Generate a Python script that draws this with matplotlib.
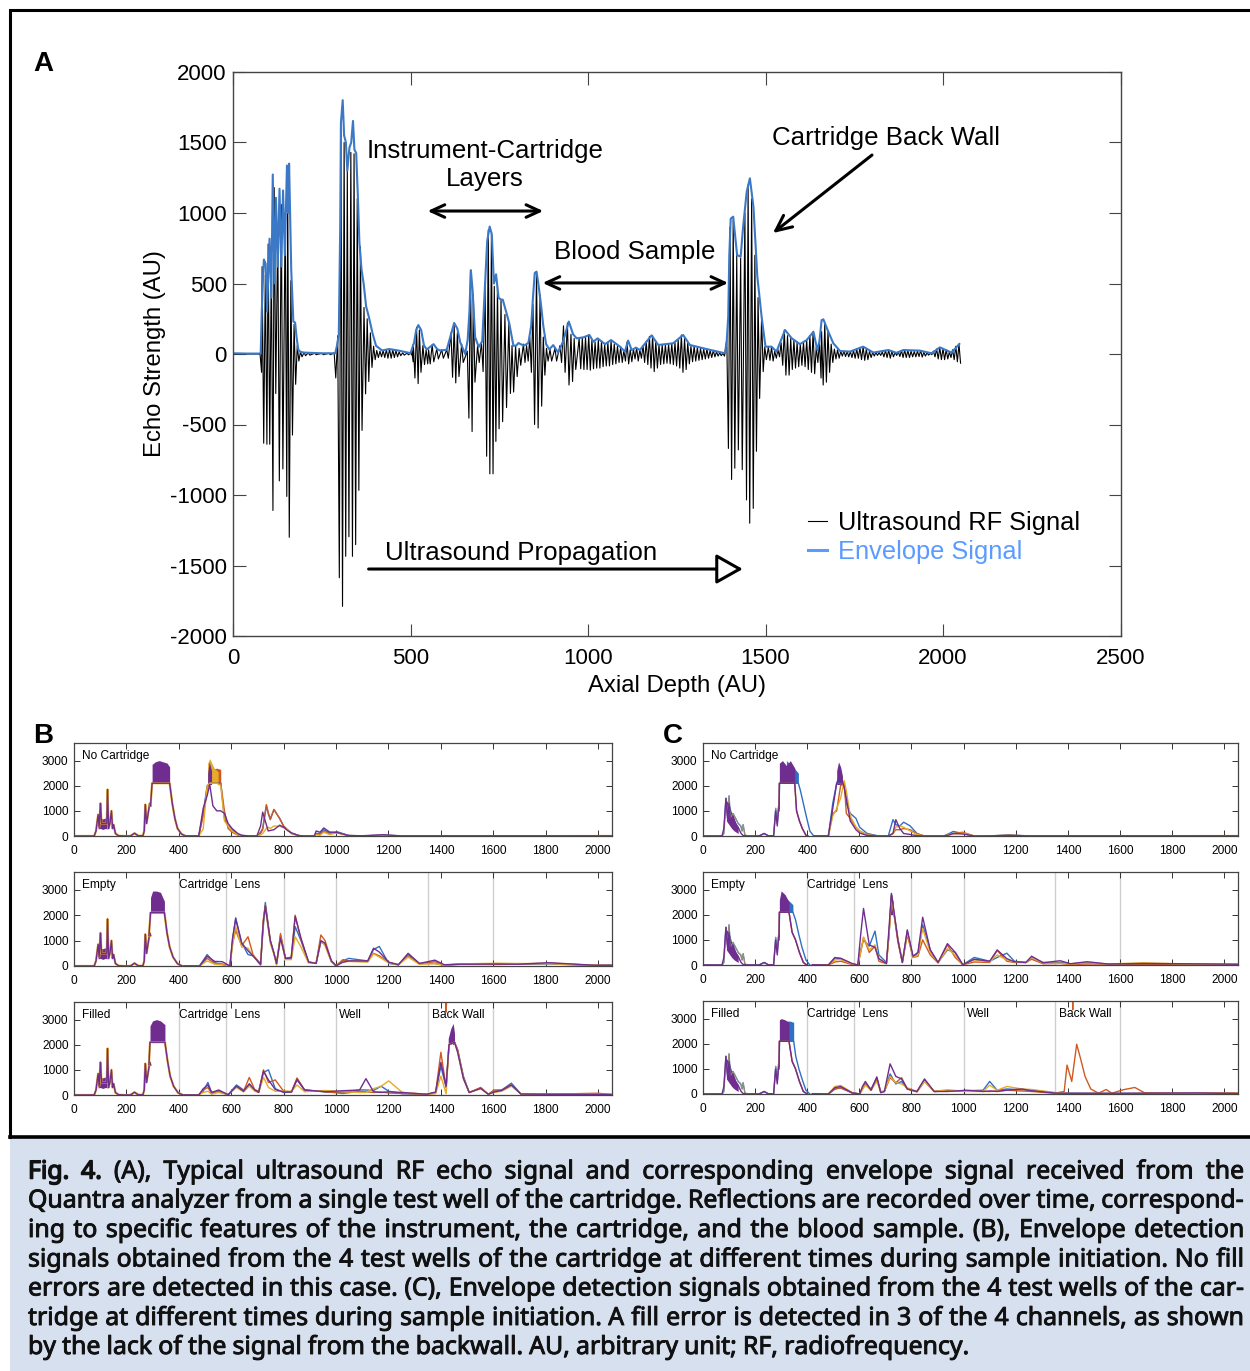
import matplotlib
matplotlib.use('Agg')
import matplotlib.pyplot as plt
import matplotlib.patheffects as pe
import numpy as np
from matplotlib.patches import Rectangle

W, H = 1250, 1371
plt.rcParams['font.family'] = ['Liberation Sans', 'DejaVu Sans']
plt.rcParams['axes.unicode_minus'] = False

# panel A, RF signal: one cycle per entry (crest position, crest, trough)
rf_x = [0, 40, 70, 76, 82, 91, 99, 108, 116, 126, 136, 147, 154, 163, 172, 181, 190, 200, 212, 230, 250, 270, 285,
        295, 304, 313, 322, 332, 341, 350, 359, 369, 378, 387, 396, 405, 414, 423, 432, 441, 450, 459, 468, 478, 490,
        500, 503, 508, 517, 525, 535, 544, 551, 561, 574, 588, 602, 614, 623, 632, 644, 660, 669, 677, 689, 700,
        710, 719, 728, 736, 745, 755, 766, 777, 786, 796, 806, 818, 827, 836, 845, 855, 865, 874, 883, 893, 907, 921,
        931, 942, 952, 961, 975, 984, 993, 1002, 1011, 1020, 1029, 1038, 1047, 1056, 1065, 1074, 1083, 1092, 1101,
        1110, 1119, 1128, 1137, 1146, 1155, 1164, 1173, 1182, 1191, 1200, 1209, 1218, 1227, 1236, 1245, 1254, 1263,
        1272, 1281, 1290, 1299, 1308, 1317, 1326, 1335, 1344, 1353, 1362, 1371, 1380, 1391, 1400, 1409, 1419, 1430,
        1442, 1451, 1461, 1470, 1479, 1489, 1498, 1508, 1517, 1526, 1535, 1544, 1553, 1562, 1571, 1580, 1589, 1598,
        1607, 1616, 1625, 1634, 1643, 1652, 1658, 1667, 1676, 1685, 1694, 1703, 1712, 1721, 1730, 1739, 1748, 1757,
        1766, 1775, 1784, 1793, 1802, 1811, 1820, 1829, 1838, 1847, 1856, 1865, 1874, 1883, 1892, 1901, 1910, 1919,
        1928, 1937, 1946, 1955, 1964, 1973, 1982, 1991, 2000, 2009, 2018, 2027, 2036, 2045]
rf_top = [0, 0, 0, 5, 620, 560, 780, 660, 1180, 900, 1060, 1000, 1230, 520, 210, 60, 15, 10, 8, 5, 5, 5, 8,
          130, 1600, 1500, 1300, 1430, 1420, 1100, 760, 330, 250, 150, 55, 25, 20, 25, 30, 35, 30, 25, 15, 8, 6,
          6, 30, 70, 190, 170, 60, 30, 30, 65, 35, 30, 30, 150, 200, 150, 70, 20, 590, 420, 60, 80,
          500, 880, 850, 480, 480, 380, 280, 220, 60, 60, 40, 70, 60, 120, 350, 575, 420, 120, 40, 33, 40, 60,
          200, 220, 140, 110, 110, 118, 120, 135, 100, 85, 100, 85, 70, 80, 90, 70, 55, 50, 25,
          85, 30, 35, 45, 30, 60, 90, 125, 130, 90, 65, 65, 65, 70, 75, 80, 100, 135,
          110, 80, 55, 55, 45, 40, 35, 35, 25, 25, 15, 10, 5, 100, 900, 950, 700, 680,
          1000, 1200, 1100, 700, 400, 260, 50, 50, 50, 20, 30, 80, 170, 130, 110, 100, 80, 70,
          85, 100, 130, 155, 50, 90, 160, 220, 160, 70, 35, 30, 20, 20, 18, 18, 25, 35,
          45, 50, 35, 20, 12, 10, 10, 15, 25, 28, 20, 10, 15, 25, 28, 25, 20, 18,
          20, 25, 12, 8, 5, 20, 35, 45, 40, 30, 15, 30, 55, 70]
rf_bot = [0, 0, 0, -130, -633, -640, -640, -1110, -280, -900, -815, -1010, -1300, -575, -215, -50, -20, -12, -8, -5, -5, -5, -170,
          -1587, -1790, -1435, -1296, -1435, -1352, -967, -542, -283, -195, -95, -40, -25, -20, -25, -30, -30, -25, -20, -12, -8, -6,
          -8, -55, -170, -210, -130, -75, -70, -70, -55, -35, -30, -30, -165, -205, -160, -60, -455, -550, -200, -60, -125,
          -725, -850, -850, -620, -530, -480, -380, -280, -270, -160, -80, -60, -50, -130, -500, -525, -370, -150, -50, -50, -50, -60,
          -130, -220, -195, -110, -105, -110, -110, -115, -105, -100, -100, -90, -85, -85, -75, -70, -60, -60, -50,
          -70, -55, -35, -50, -30, -60, -75, -100, -125, -100, -75, -70, -65, -70, -75, -85, -100, -130,
          -110, -70, -55, -50, -45, -40, -35, -30, -25, -20, -15, -12, -15, -670, -890, -810, -680, -820,
          -1035, -1200, -1095, -690, -315, -125, -40, -45, -50, -30, -20, -80, -150, -150, -110, -100, -90, -80,
          -90, -110, -130, -140, -60, -170, -220, -200, -130, -60, -35, -30, -15, -18, -20, -25, -30, -30,
          -40, -45, -40, -25, -15, -10, -10, -20, -25, -30, -20, -10, -18, -25, -25, -25, -20, -20,
          -18, -22, -15, -8, -5, -20, -35, -40, -40, -35, -25, -40, -55, -65]

# panel A, envelope
env_x = [0, 40, 78, 81, 84, 87, 92, 96, 103, 108, 112, 117, 121, 126, 131, 136, 141, 146, 152, 155, 158, 164, 170, 175,
         179, 184, 190, 200, 250, 288, 293, 298, 302, 304, 309, 313, 318, 322, 328, 333, 338, 342, 347, 352, 356, 362,
         368, 375, 383, 393, 403, 420, 440, 465, 500, 510, 516, 522, 530, 538, 546, 555, 565, 575, 583, 602, 612, 623,
         632, 640, 654, 661, 666, 670, 675, 682, 692, 702, 708, 716, 723, 729, 735, 741, 748, 754, 760, 766, 771, 778,
         790, 798, 804, 810, 820, 832, 840, 845, 850, 855, 860, 867, 874, 882, 891, 902, 916, 930, 946, 958, 968,
         987, 1004, 1015, 1027, 1048, 1065, 1090, 1104, 1113, 1123, 1135, 1146, 1179, 1198, 1240, 1268, 1287, 1334, 1386,
         1391, 1395, 1398, 1402, 1409, 1420, 1430, 1437, 1447, 1456, 1466, 1477, 1489, 1500, 1517, 1531, 1555, 1574, 1597,
         1616, 1635, 1646, 1652, 1658, 1663, 1677, 1691, 1710, 1738, 1775, 1804, 1846, 1869, 1888, 1935, 1968, 1991, 2024, 2046]
env_y = [5, 3, 3, 300, 500, 670, 640, 300, 818, 400, 1273, 500, 1108, 620, 1172, 620, 1160, 700, 1337, 1000, 1350, 600, 230, 223,
         120, 30, 15, 10, 5, 5, 60, 134, 900, 1640, 1800, 1550, 1500, 1300, 1463, 1500, 1653, 1450, 1425, 1100, 792, 600,
         500, 337, 260, 147, 58, 25, 35, 25, 6, 80, 170, 205, 170, 60, 33, 50, 70, 35, 25, 30, 120, 220,
         180, 83, 0, 100, 300, 595, 450, 120, 50, 90, 400, 800, 904, 850, 500, 565, 400, 387, 385, 330, 285, 220,
         58, 60, 78, 70, 60, 78, 200, 400, 575, 584, 500, 363, 200, 70, 33, 63, 10, 90, 230, 140, 111,
         118, 135, 87, 111, 70, 99, 52, 17, 95, 28, 45, 28, 132, 64, 76, 135, 64, 35, 5,
         100, 265, 700, 960, 974, 702, 690, 903, 1150, 1246, 1045, 548, 265, 52, 52, 17, 170, 111, 70,
         99, 158, 28, 90, 240, 246, 158, 76, 21, 17, 52, 10, 28, 8, 28, 24, 5, 47, 10, 71]

y_ticks_a = [-2000, -1500, -1000, -500, 0, 500, 1000, 1500, 2000]
x_ticks_a = [0, 500, 1000, 1500, 2000, 2500]

# shared start of the B traces and of the C traces (before the second burst)
head_b_x = [0, 77, 84, 92, 96, 101, 105, 125, 128, 132, 137, 143, 147, 151, 158, 170, 190, 215, 231, 245, 263, 268, 272, 277, 283, 289, 292]
head_b_y = [0, 0, 200, 850, 350, 1300, 500, 500, 1850, 300, 500, 1000, 300, 450, 100, 10, 0, 0, 110, 10, 10, 200, 1250, 500, 900, 1300, 1200]
head_b_band_x = [92, 100, 110, 120, 127]
head_b_band_lo = [280, 300, 260, 300, 280]
head_b_band_hi = [700, 720, 680, 720, 620]
head_c_x = [0, 73, 80, 88, 94, 100, 105, 115, 125, 135, 145, 150, 154, 161, 175, 215, 235, 250, 271, 279, 285, 290, 292]
head_c_blue = [0, 0, 100, 1500, 800, 1600, 700, 900, 700, 500, 400, 200, 450, 30, 0, 0, 100, 10, 5, 1100, 500, 1200, 1100]
head_c_purple = [0, 0, 300, 1500, 700, 1300, 600, 800, 500, 350, 120, 60, 20, 5, 0, 0, 100, 10, 5, 1000, 400, 1100, 1000]
head_c_band_x = [90, 100, 110, 120, 135]
head_c_band_lo = [600, 450, 300, 200, 100]
head_c_band_hi = [1400, 1300, 900, 650, 320]

# second burst per plot: flank of the trace and the saturated band
b1_lead_x = [292, 298, 365, 375, 385, 395, 410, 425]
b1_lead_y = [1200, 2100, 2100, 1300, 700, 300, 80, 5]
b1_band_x = [298, 310, 325, 340, 355, 365]
b1_band_hi = [2850, 2950, 3000, 2950, 2900, 2750]
b2_lead_x = [286, 292, 345, 355, 365, 378, 395, 412]
b2_lead_y = [1200, 2100, 2100, 1300, 750, 350, 90, 5]
b2_band_x = [292, 300, 315, 330, 345]
b2_band_hi = [2700, 2950, 2950, 2900, 2550]
b3_lead_x = [286, 290, 347, 357, 367, 380, 397, 415]
b3_lead_y = [1200, 2100, 2100, 1350, 750, 350, 90, 5]
b3_band_x = [290, 300, 315, 330, 347]
b3_band_hi = [2750, 2950, 3000, 2950, 2800]

c1_lead_x = [292, 293, 352, 359, 370, 381, 395, 403]
c1_purple_lead = [1100, 2100, 2100, 1000, 600, 300, 30, 0]
c1_blue_x = [292, 294, 366, 374, 385, 396, 410, 425]
c1_blue_lead = [1200, 2100, 2100, 1800, 1300, 800, 200, 0]
c1_band_x = [293, 305, 320, 335, 352]
c1_band_hi = [2900, 3000, 2800, 3000, 2700]
c1_blue_band_x = [320, 340, 350, 366]
c1_blue_band_hi = [3000, 2800, 2700, 2500]
c2_lead_x = [292, 293, 330, 342, 355, 370, 385, 398]
c2_purple_lead = [1100, 2100, 2100, 1300, 1000, 500, 100, 0]
c2_blue_x = [292, 294, 345, 355, 368, 380, 395, 410]
c2_blue_lead = [1200, 2100, 2100, 1800, 1200, 700, 200, 0]
c2_band_x = [293, 300, 315, 330]
c2_band_hi = [2600, 2950, 2800, 2500]
c2_blue_band_x = [320, 335, 345]
c2_blue_band_hi = [2650, 2500, 2400]
c3_lead_x = [292, 293, 330, 342, 355, 370, 385, 400]
c3_purple_lead = [1100, 2100, 2100, 1300, 1000, 500, 100, 0]
c3_blue_x = [292, 294, 348, 356, 368, 380, 395, 410]
c3_blue_lead = [1200, 2100, 2100, 1500, 1000, 600, 150, 0]
c3_band_x = [293, 300, 315, 330]
c3_band_hi = [2950, 3000, 2950, 2850]
c3_blue_band_x = [320, 335, 348]
c3_blue_band_hi = [2900, 2900, 2850]

# plot B, No Cartridge
b1_x = [420, 476, 493, 508, 518, 530, 545, 560, 574, 588, 603, 625, 640, 668, 698, 712, 720, 734, 741, 749, 763, 785, 800, 815, 830, 858, 880, 917, 924, 939, 953, 975, 1004, 1048, 1100, 1180, 1250, 2050]
b1_blue = [5, 0, 900, 2000, 2100, 2100, 2100, 2100, 700, 400, 250, 60, 20, 0, 0, 150, 300, 1200, 900, 650, 1050, 700, 400, 250, 120, 20, 0, 0, 100, 100, 250, 120, 170, 20, 5, 30, 5, 5]
b1_orange = [5, 0, 800, 1900, 2100, 2100, 2100, 2100, 1000, 300, 150, 40, 10, 0, 0, 100, 250, 1250, 950, 680, 1060, 690, 380, 230, 100, 15, 0, 0, 80, 60, 180, 90, 130, 15, 5, 25, 5, 15]
b1_yellow = [5, 0, 280, 2000, 2100, 2100, 2100, 2000, 600, 400, 200, 50, 10, 0, 0, 50, 100, 300, 350, 300, 400, 380, 330, 250, 100, 10, 0, 0, 50, 30, 150, 60, 120, 15, 5, 20, 5, 5]
b1_purple = [5, 0, 1100, 1600, 2050, 1200, 1000, 1000, 900, 500, 300, 100, 30, 0, 0, 400, 950, 450, 200, 220, 250, 430, 350, 220, 120, 15, 0, 0, 200, 150, 320, 160, 140, 20, 10, 50, 5, 5]
b1_orange_band_x = [512, 525, 545, 560]
b1_orange_band_hi = [2750, 2650, 2700, 2650]
b1_yellow_band_x = [510, 518, 535, 550]
b1_yellow_band_hi = [2900, 3080, 2700, 2550]
b1_purple_band_x = [510, 516, 525]
b1_purple_band_hi = [2500, 2950, 2600]

# plot B, Empty
b2_x = [420, 479, 508, 537, 566, 595, 605, 617, 640, 664, 683, 712, 722, 730, 749, 763, 773, 788, 807, 829, 844, 866, 895, 924, 942, 958, 982, 1000, 1026, 1048, 1121, 1143, 1165, 1201, 1238, 1275, 1318, 1377, 1413, 1471, 1617, 1690, 1815, 1983, 2050]
b2_blue = [5, 0, 450, 130, 60, 0, 1000, 1900, 900, 450, 400, 100, 1500, 2500, 1000, 500, 100, 1200, 300, 300, 1550, 1000, 150, 100, 950, 850, 200, 10, 200, 300, 200, 650, 770, 100, 50, 450, 100, 100, 30, 60, 60, 70, 80, 20, 30]
b2_orange = [5, 0, 300, 100, 80, 0, 900, 1400, 800, 1150, 450, 50, 1800, 2400, 1000, 500, 50, 1280, 300, 350, 2000, 1050, 150, 120, 1220, 1000, 200, 10, 250, 200, 180, 500, 400, 150, 50, 400, 80, 170, 40, 80, 70, 80, 110, 30, 20]
b2_yellow = [5, 0, 200, 70, 50, 0, 800, 1550, 750, 700, 400, 30, 1700, 2300, 900, 450, 50, 1100, 250, 250, 1150, 750, 120, 120, 1000, 800, 150, 10, 150, 180, 150, 480, 350, 120, 40, 350, 70, 90, 30, 80, 110, 100, 90, 30, 20]
b2_purple = [5, 0, 380, 180, 170, 0, 1100, 1850, 900, 600, 400, 60, 1700, 2350, 1000, 500, 100, 1100, 300, 320, 1950, 1100, 160, 100, 1000, 900, 200, 10, 150, 200, 200, 700, 550, 150, 50, 500, 100, 230, 50, 70, 80, 70, 130, 30, 30]

# plot B, Filled
b3_x = [420, 476, 493, 511, 525, 552, 588, 620, 647, 669, 690, 705, 723, 742, 768, 800, 830, 851, 880, 961, 1026, 1090, 1114, 1143, 1172, 1201, 1253, 1347, 1380, 1400, 1420, 1431, 1452, 1464, 1486, 1508, 1552, 1581, 1603, 1632, 1669, 1705, 1800, 2000, 2050]
b3_blue = [5, 0, 150, 500, 100, 150, 10, 400, 200, 400, 200, 150, 900, 1000, 250, 100, 120, 600, 200, 120, 100, 200, 200, 180, 350, 150, 50, 30, 100, 1150, 300, 2000, 2100, 1800, 750, 100, 280, 30, 150, 200, 470, 50, 30, 20, 20]
b3_orange = [5, 0, 200, 300, 60, 170, 10, 350, 150, 700, 200, 150, 1000, 500, 600, 150, 130, 680, 200, 130, 60, 150, 130, 100, 120, 80, 60, 30, 100, 1700, 300, 2000, 2100, 1800, 700, 100, 300, 30, 200, 200, 400, 40, 30, 70, 20]
b3_yellow = [5, 0, 100, 150, 30, 100, 10, 300, 120, 350, 150, 100, 700, 300, 150, 150, 150, 400, 130, 180, 130, 100, 100, 250, 350, 560, 100, 30, 50, 750, 50, 2000, 2100, 1700, 650, 100, 250, 30, 100, 150, 350, 50, 30, 30, 20]
b3_purple = [5, 0, 250, 400, 100, 200, 10, 350, 150, 450, 200, 100, 950, 600, 220, 120, 120, 620, 200, 130, 170, 200, 650, 130, 100, 130, 100, 30, 120, 1300, 350, 2000, 2100, 1700, 650, 100, 260, 30, 120, 180, 400, 40, 30, 20, 20]
b3_band_wall_x = [1428, 1438, 1447, 1452]
b3_band_wall_lo = [2050, 2100, 2000, 2050]
b3_band_wall_hi = [2250, 2650, 2850, 2450]
b3_spike_x = [1418, 1420, 1422]
b3_spike_y = [3700, 3300, 3700]

# plot C, No Cartridge
c1_x = [425, 481, 498, 513, 528, 542, 550, 565, 587, 601, 630, 675, 711, 729, 740, 755, 770, 795, 821, 850, 924, 945, 960, 997, 1041, 1100, 1173, 1250, 2050]
c1_blue = [5, 0, 1300, 2100, 2100, 2000, 1300, 900, 700, 350, 100, 0, 0, 650, 450, 400, 550, 400, 100, 0, 0, 100, 180, 100, 0, 5, 40, 5, 5]
c1_orange = [5, 0, 900, 1000, 2000, 2100, 900, 700, 350, 200, 40, 0, 0, 100, 250, 250, 300, 250, 80, 0, 0, 60, 100, 150, 0, 5, 30, 5, 15]
c1_yellow = [5, 0, 800, 1100, 1500, 2200, 1800, 800, 350, 200, 40, 0, 0, 100, 350, 400, 350, 200, 60, 0, 0, 60, 80, 110, 0, 5, 20, 5, 5]
c1_purple = [5, 0, 1100, 2100, 2500, 1900, 1500, 600, 250, 120, 20, 0, 0, 100, 650, 300, 100, 60, 10, 0, 0, 40, 100, 80, 0, 5, 20, 5, 5]
c1_band2_x = [513, 520, 528, 535]
c1_band2_hi = [2600, 2950, 2750, 2400]
c1_band2_lo = [2050, 2050, 2050, 2050]

# plot C, Empty
c2_x = [420, 481, 506, 528, 572, 594, 605, 616, 638, 660, 675, 704, 714, 723, 748, 765, 784, 806, 825, 843, 872, 902, 938, 968, 997, 1041, 1100, 1129, 1166, 1195, 1239, 1261, 1305, 1371, 1410, 1474, 1554, 1690, 1850, 2050]
c2_blue = [10, 0, 300, 250, 50, 0, 600, 1000, 750, 1350, 400, 100, 1200, 2800, 1000, 100, 1350, 300, 500, 1600, 600, 100, 600, 500, 10, 300, 150, 300, 470, 150, 100, 300, 100, 100, 50, 80, 40, 50, 30, 20]
c2_orange = [10, 0, 120, 150, 20, 0, 500, 1100, 500, 750, 150, 50, 1300, 2750, 900, 100, 1200, 300, 350, 1000, 400, 80, 800, 300, 10, 120, 100, 580, 150, 100, 100, 230, 50, 60, 20, 40, 40, 30, 20, 20]
c2_yellow = [10, 0, 200, 220, 40, 0, 500, 1100, 600, 800, 250, 60, 1200, 2700, 1050, 120, 1300, 300, 400, 1450, 500, 90, 650, 400, 10, 200, 130, 400, 200, 120, 100, 300, 80, 70, 30, 90, 40, 90, 40, 20]
c2_purple = [10, 0, 280, 270, 60, 0, 1200, 2250, 800, 700, 250, 60, 1500, 2850, 1000, 100, 1400, 350, 500, 1900, 600, 100, 850, 500, 10, 230, 150, 600, 250, 130, 100, 350, 90, 170, 50, 130, 40, 60, 50, 30]
c2_band2_x = [718, 723, 730]
c2_band2_hi = [2600, 2850, 2500]
c2_band2_lo = [2000, 2000, 2000]

# plot C, Filled
c3_x = [420, 481, 506, 528, 572, 601, 612, 623, 645, 667, 682, 696, 718, 740, 762, 784, 821, 850, 887, 938, 1012, 1075, 1100, 1129, 1166, 1224, 1261, 1349, 1386, 1600, 1900, 2050]
c3_blue = [10, 0, 200, 240, 50, 0, 200, 400, 200, 650, 100, 100, 800, 400, 500, 200, 100, 550, 100, 120, 130, 150, 500, 150, 200, 170, 150, 50, 30, 20, 30, 20]
c3_yellow = [10, 0, 300, 340, 60, 0, 180, 350, 150, 500, 80, 120, 700, 450, 400, 250, 100, 500, 100, 170, 100, 100, 350, 150, 300, 200, 180, 60, 20, 20, 20, 20]
c3_purple = [10, 0, 250, 300, 50, 0, 300, 500, 150, 680, 50, 100, 1200, 700, 600, 200, 100, 600, 100, 100, 150, 100, 120, 100, 150, 200, 130, 40, 30, 30, 40, 20]
c3_orange_x = [420, 481, 506, 528, 572, 601, 623, 645, 667, 682, 696, 718, 740, 762, 784, 821, 850, 887, 938, 1012, 1100, 1166, 1261, 1349, 1386, 1397, 1415, 1434, 1449, 1466, 1488, 1518, 1547, 1569, 1613, 1657, 1694, 1800, 2050]
c3_orange = [10, 0, 200, 250, 40, 0, 400, 150, 600, 80, 100, 650, 450, 650, 200, 80, 500, 100, 130, 120, 100, 150, 100, 30, 100, 1150, 500, 1980, 1400, 700, 200, 30, 180, 30, 170, 260, 50, 30, 40]
c3_spike_x = [1418, 1419, 1420]
c3_spike_y = [3700, 3350, 3700]

panel_x_ticks = [0, 200, 400, 600, 800, 1000, 1200, 1400, 1600, 1800, 2000]
panel_y_ticks = [0, 1000, 2000, 3000]
divider_x = [400, 580, 800, 1000, 1350, 1600]

caption_lines = [
    'Fig. 4. (A), Typical ultrasound RF echo signal and corresponding envelope signal received from the',
    'Quantra analyzer from a single test well of the cartridge. Reflections are recorded over time, correspond-',
    'ing to specific features of the instrument, the cartridge, and the blood sample. (B), Envelope detection',
    'signals obtained from the 4 test wells of the cartridge at different times during sample initiation. No fill',
    'errors are detected in this case. (C), Envelope detection signals obtained from the 4 test wells of the car-',
    'tridge at different times during sample initiation. A fill error is detected in 3 of the 4 channels, as shown',
    'by the lack of the signal from the backwall. AU, arbitrary unit; RF, radiofrequency.',
]

BLUE, ORANGE, YELLOW, PURPLE = '#2f6fc4', '#cf5a1f', '#e5ab2a', '#702d90'
PLOT_BLUE = '#3b78c6'
TRACE_LW = 1.0


def px_axes(left, top, right, bottom):
    return fig.add_axes([left / W, 1 - bottom / H, (right - left) / W, (bottom - top) / H])


fig = plt.figure(figsize=(W / 100, H / 100), dpi=100)

# page furniture in pixel coordinates
page = fig.add_axes([0, 0, 1, 1], zorder=0)
page.set_xlim(0, W)
page.set_ylim(H, 0)
page.axis('off')
page.add_patch(Rectangle((10, 1138), W - 10, H - 1138, fc='#d6e0ef', ec='none'))
page.plot([W, 10, 10], [10, 10, 1137], color='black', lw=2.2, solid_joinstyle='miter')
page.plot([10, W], [1137, 1137], color='black', lw=2.6)
page.text(33, 64, 'A', fontsize=20, fontweight='bold', va='center')
page.text(33, 736, 'B', fontsize=20, fontweight='bold', va='center')
page.text(663, 736, 'C', fontsize=20, fontweight='bold', va='center')

# caption, justified word by word; the installed Noto Sans has one weight, so a thin stroke thickens it
renderer = fig.canvas.get_renderer()
cap_left, cap_right = 28, 1244
cap_y = [1172, 1201, 1230.5, 1260, 1289, 1318.5, 1347.5]
for row, line in enumerate(caption_lines):
    words = line.split(' ')
    items = []
    for k, word in enumerate(words):
        heavy = row == 0 and k < 2
        t = page.text(0, cap_y[row], word, fontsize=17.9, family='Noto Sans', va='center', color='#111111')
        t.set_path_effects([pe.withStroke(linewidth=1.1 if heavy else 0.65, foreground='#111111')])
        items.append(t)
    widths = [t.get_window_extent(renderer).width for t in items]
    if row < len(caption_lines) - 1:
        gap = (cap_right - cap_left - sum(widths)) / (len(words) - 1)
    else:
        gap = 6.2
    pos = cap_left
    for t, wd in zip(items, widths):
        t.set_x(pos)
        pos += wd + gap

# panel A
ax = px_axes(233, 72, 1120.5, 636)
rf_xs = np.column_stack([rf_x, np.array(rf_x) + 4.5]).ravel()
rf_ys = np.column_stack([rf_top, rf_bot]).ravel()
ax.plot(rf_xs, rf_ys, color='black', lw=0.8, label='Ultrasound RF Signal')
ax.plot(env_x, env_y, color=PLOT_BLUE, lw=1.5, label='Envelope Signal')
ax.set_xlim(0, 2500)
ax.set_ylim(-2000, 2000)
ax.set_xticks(x_ticks_a)
ax.set_yticks(y_ticks_a)
ax.tick_params(direction='in', length=9, width=0.8, top=True, right=True, labelsize=16, color='#444444')
ax.tick_params(axis='x', pad=9)
ax.tick_params(axis='y', pad=4.5)
for s in ax.spines.values():
    s.set_color('#444444')
    s.set_linewidth(1.0)
ax.set_xlabel('Axial Depth (AU)', fontsize=17.2, labelpad=4)
ax.set_ylabel('Echo Strength (AU)', fontsize=17.2, labelpad=2.4)

ax.text(710, 1340, 'Instrument-Cartridge\nLayers', fontsize=18.6, ha='center', va='center', linespacing=1.19)
ax.text(1132, 725, 'Blood Sample', fontsize=18.6, ha='center', va='center')
ax.text(1839, 1532, 'Cartridge Back Wall', fontsize=18.6, ha='center', va='center')
ax.text(428, -1410, 'Ultrasound Propagation', fontsize=18.6, ha='left', va='center')
ax.annotate('', xy=(548, 1014), xytext=(874, 1014), arrowprops=dict(arrowstyle='<->,head_length=0.65,head_width=0.3', color='black', lw=2.2, shrinkA=0, shrinkB=0, mutation_scale=15))
ax.annotate('', xy=(872, 504), xytext=(1395, 504), arrowprops=dict(arrowstyle='<->,head_length=0.65,head_width=0.3', color='black', lw=2.2, shrinkA=0, shrinkB=0, mutation_scale=15))
ax.annotate('', xy=(1521, 858), xytext=(1800, 1411), arrowprops=dict(arrowstyle='->,head_length=0.75,head_width=0.35', color='black', lw=2.2, shrinkA=0, shrinkB=0, mutation_scale=15))
ax.annotate('', xy=(1436, -1525), xytext=(382, -1525), arrowprops=dict(arrowstyle='-|>,head_length=1.1,head_width=0.62', fc='white', ec='black', lw=2.2, shrinkA=0, shrinkB=0, mutation_scale=15))
leg = ax.legend(loc='upper left', bbox_to_anchor=(0.648, 0.222), frameon=False, fontsize=18.3, handlelength=0.75, handletextpad=0.42,
                labelspacing=0.2, borderpad=0, borderaxespad=0, labelcolor=['black', '#5b9bff'])
leg.get_lines()[1].set_color('#5b9bff')
leg.get_lines()[1].set_linewidth(2.2)


def style_panel(a, label, extra):
    a.set_xlim(0, 2053)
    a.set_ylim(0, 3700)
    a.set_xticks(panel_x_ticks)
    a.set_yticks(panel_y_ticks)
    a.tick_params(direction='in', length=4, width=0.7, top=True, right=True, labelsize=8.6, color='#333333')
    a.tick_params(axis='x', pad=6.5)
    a.tick_params(axis='y', pad=4)
    for s in a.spines.values():
        s.set_color('#444444')
        s.set_linewidth(0.9)
    a.text(32, 3200, label, fontsize=8.6, va='center', ha='left')
    for px, txt in extra:
        a.text(px, 3200, txt, fontsize=8.6, va='center', ha='left')


def dividers(a):
    for dx in divider_x:
        a.axvline(dx, color='#cfcfcf', lw=1.0, zorder=1)


def draw_traces(a, x, blue, orange, yellow, purple, orange_x=None):
    a.plot(x, blue, color=BLUE, lw=TRACE_LW)
    a.plot(x if orange_x is None else orange_x, orange, color=ORANGE, lw=TRACE_LW)
    a.plot(x, yellow, color=YELLOW, lw=TRACE_LW)
    a.plot(x, purple, color=PURPLE, lw=TRACE_LW)


def draw_head_b(a):
    a.plot(head_b_x, head_b_y, color=YELLOW, lw=1.6)
    a.plot(head_b_x, head_b_y, color=PURPLE, lw=TRACE_LW)
    a.fill_between(head_b_band_x, head_b_band_lo, head_b_band_hi, color=PURPLE, lw=0)


def draw_head_c(a):
    a.plot(head_c_x, head_c_blue, color=BLUE, lw=TRACE_LW)
    a.plot(head_c_x, head_c_blue, color=YELLOW, lw=0.6, alpha=0.7)
    a.plot(head_c_x, head_c_purple, color=PURPLE, lw=TRACE_LW)
    a.fill_between(head_c_band_x, head_c_band_lo, head_c_band_hi, color=PURPLE, lw=0)


def burst_b(a, lead_x, lead_y, band_x, band_hi):
    a.plot(lead_x, lead_y, color=YELLOW, lw=1.6)
    a.plot(lead_x, lead_y, color=PURPLE, lw=TRACE_LW)
    a.fill_between(band_x, 2100, band_hi, color=PURPLE, lw=0)


def burst_c(a, lead_x, purple, blue_x, blue, band_x, band_hi, blue_band_x, blue_band_hi):
    a.plot(blue_x, blue, color=BLUE, lw=TRACE_LW)
    a.fill_between(blue_band_x, 2100, blue_band_hi, color=BLUE, lw=0)
    a.plot(lead_x, purple, color=ORANGE, lw=TRACE_LW)
    a.plot(lead_x, purple, color=PURPLE, lw=TRACE_LW)
    a.fill_between(band_x, 2100, band_hi, color=PURPLE, lw=0)


lens = [(400, 'Cartridge  Lens')]
lens_well = [(400, 'Cartridge  Lens'), (1012, 'Well'), (1365, 'Back Wall')]

# column B
a = px_axes(74, 743, 612, 836)
draw_head_b(a)
burst_b(a, b1_lead_x, b1_lead_y, b1_band_x, b1_band_hi)
draw_traces(a, b1_x, b1_blue, b1_orange, b1_yellow, b1_purple)
a.fill_between(b1_orange_band_x, 2100, b1_orange_band_hi, color=ORANGE, lw=0)
a.fill_between(b1_yellow_band_x, 2100, b1_yellow_band_hi, color=YELLOW, lw=0)
a.fill_between(b1_purple_band_x, 2050, b1_purple_band_hi, color=PURPLE, lw=0)
style_panel(a, 'No Cartridge', [])

a = px_axes(74, 872, 612, 966)
dividers(a)
draw_head_b(a)
burst_b(a, b2_lead_x, b2_lead_y, b2_band_x, b2_band_hi)
draw_traces(a, b2_x, b2_blue, b2_orange, b2_yellow, b2_purple)
style_panel(a, 'Empty', lens)

a = px_axes(74, 1002, 612, 1095)
dividers(a)
draw_head_b(a)
burst_b(a, b3_lead_x, b3_lead_y, b3_band_x, b3_band_hi)
draw_traces(a, b3_x, b3_blue, b3_orange, b3_yellow, b3_purple)
a.fill_between(b3_band_wall_x, b3_band_wall_lo, b3_band_wall_hi, color=PURPLE, lw=0)
a.plot(b3_spike_x, b3_spike_y, color=ORANGE, lw=0.9)
style_panel(a, 'Filled', lens_well)

# column C
a = px_axes(703, 743, 1238, 836)
draw_head_c(a)
burst_c(a, c1_lead_x, c1_purple_lead, c1_blue_x, c1_blue_lead, c1_band_x, c1_band_hi, c1_blue_band_x, c1_blue_band_hi)
draw_traces(a, c1_x, c1_blue, c1_orange, c1_yellow, c1_purple)
a.fill_between(c1_band2_x, c1_band2_lo, c1_band2_hi, color=PURPLE, lw=0)
style_panel(a, 'No Cartridge', [])

a = px_axes(703, 872, 1238, 965)
dividers(a)
draw_head_c(a)
burst_c(a, c2_lead_x, c2_purple_lead, c2_blue_x, c2_blue_lead, c2_band_x, c2_band_hi, c2_blue_band_x, c2_blue_band_hi)
draw_traces(a, c2_x, c2_blue, c2_orange, c2_yellow, c2_purple)
a.fill_between(c2_band2_x, c2_band2_lo, c2_band2_hi, color=PURPLE, lw=0)
style_panel(a, 'Empty', lens)

a = px_axes(703, 1001, 1238, 1094)
dividers(a)
draw_head_c(a)
burst_c(a, c3_lead_x, c3_purple_lead, c3_blue_x, c3_blue_lead, c3_band_x, c3_band_hi, c3_blue_band_x, c3_blue_band_hi)
draw_traces(a, c3_x, c3_blue, c3_orange, c3_yellow, c3_purple, orange_x=c3_orange_x)
a.plot(c3_spike_x, c3_spike_y, color=ORANGE, lw=0.9)
style_panel(a, 'Filled', lens_well)

fig.savefig('out.png', dpi=100)
